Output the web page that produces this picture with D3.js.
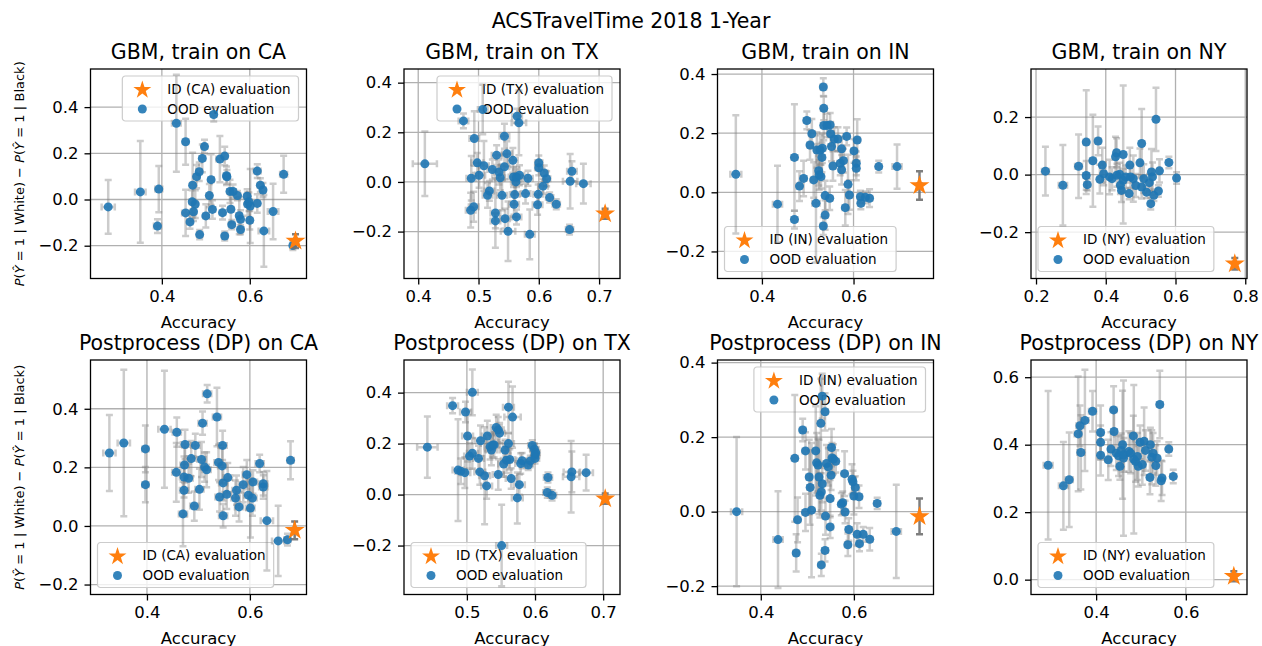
<!DOCTYPE html>
<html>
<head>
<meta charset="utf-8">
<script src="https://cdn.jsdelivr.net/npm/d3@7"></script>
<style>
  body { margin: 0; background: #fff; }
  text { font-family: "DejaVu Sans", sans-serif; fill: #000; }
</style>
</head>
<body>
<svg id="chart" width="1262" height="646"></svg>
<script>
// each point: [accuracy, gap, accuracy error, gap error]
const gbmCaOod = [
  [0.278,-0.032,0.015,0.116],[0.351,0.033,0.012,0.22],[0.393,0.045,0.008,0.10],[0.390,-0.115,0.008,0.03],
  [0.433,0.33,0.01,0.21],[0.454,0.25,0.006,0.10],[0.454,-0.058,0.008,0.10],[0.464,-0.097,0.006,0.03],
  [0.470,0.062,0.006,0.14],[0.469,-0.01,0.006,0.05],[0.476,-0.02,0.006,0.06],[0.472,-0.053,0.006,0.04],
  [0.479,0.099,0.006,0.05],[0.485,0.12,0.006,0.04],[0.486,-0.152,0.006,0.02],[0.492,0.178,0.006,0.06],
  [0.497,0.229,0.006,0.03],[0.500,-0.071,0.006,0.05],[0.508,0.017,0.006,0.05],[0.512,0.086,0.006,0.11],
  [0.515,-0.043,0.006,0.04],[0.518,0.368,0.006,0.03],[0.532,0.175,0.008,0.10],[0.538,-0.057,0.006,0.03],
  [0.543,0.188,0.006,0.04],[0.543,-0.158,0.006,0.02],[0.547,0.103,0.006,0.04],[0.548,0.098,0.006,0.03],
  [0.555,0.035,0.006,0.05],[0.557,-0.042,0.006,0.06],[0.559,-0.109,0.006,0.02],[0.562,0.035,0.006,0.03],
  [0.572,0.017,0.006,0.02],[0.576,-0.07,0.006,0.08],[0.579,-0.086,0.006,0.04],[0.579,-0.13,0.006,0.02],
  [0.594,0.014,0.006,0.03],[0.595,-0.02,0.006,0.05],[0.598,-0.01,0.006,0.04],[0.600,-0.09,0.006,0.04],
  [0.601,-0.028,0.006,0.16],[0.617,0.123,0.008,0.03],[0.617,-0.017,0.006,0.04],[0.624,0.062,0.006,0.03],
  [0.630,0.041,0.006,0.03],[0.632,-0.136,0.012,0.155],[0.653,-0.052,0.012,0.12],[0.677,0.109,0.008,0.08],
  [0.698,-0.199,0.004,0.02]
];
const gbmCaId = [0.704,-0.18,0.003,0.03];

const gbmTxOod = [
  [0.411,0.073,0.02,0.13],[0.475,0.246,0.008,0.03],[0.507,0.292,0.008,0.1],[0.493,0.175,0.008,0.11],
  [0.498,0.077,0.01,0.04],[0.501,0.027,0.01,0.05],[0.509,0.065,0.008,0.1],[0.488,0.015,0.008,0.09],
  [0.492,-0.10,0.008,0.06],[0.487,-0.114,0.008,0.07],[0.515,-0.054,0.008,0.05],[0.518,-0.036,0.008,0.04],
  [0.523,0.05,0.008,0.04],[0.530,0.108,0.008,0.04],[0.528,-0.125,0.008,0.14],[0.528,-0.157,0.008,0.03],
  [0.534,0.04,0.008,0.05],[0.536,0.017,0.008,0.05],[0.539,-0.054,0.008,0.06],[0.543,0.061,0.008,0.05],
  [0.543,0.184,0.008,0.05],[0.547,0.114,0.008,0.05],[0.544,-0.148,0.008,0.04],[0.549,-0.199,0.012,0.12],
  [0.557,0.087,0.008,0.05],[0.558,0.02,0.008,0.04],[0.559,-0.09,0.008,0.05],[0.560,-0.051,0.008,0.04],
  [0.562,0.0,0.008,0.05],[0.564,0.265,0.008,0.03],[0.563,0.02,0.008,0.04],[0.563,-0.141,0.008,0.03],
  [0.567,0.238,0.012,0.13],[0.568,0.027,0.008,0.04],[0.578,-0.047,0.008,0.04],[0.582,0.015,0.008,0.03],
  [0.585,-0.211,0.008,0.1],[0.599,-0.05,0.008,0.04],[0.598,-0.092,0.008,0.04],[0.600,0.077,0.006,0.03],
  [0.600,0.057,0.006,0.03],[0.607,-0.017,0.008,0.03],[0.609,0.036,0.006,0.03],[0.613,0.013,0.006,0.03],
  [0.618,-0.063,0.006,0.02],[0.629,-0.09,0.006,0.02],[0.651,-0.192,0.006,0.02],[0.652,0.003,0.012,0.11],
  [0.655,0.043,0.008,0.04],[0.674,-0.007,0.012,0.08]
];
const gbmTxId = [0.710,-0.128,0.003,0.02];

const gbmInOod = [
  [0.343,0.061,0.012,0.2],[0.434,-0.04,0.01,0.13],[0.471,-0.092,0.006,0.03],[0.471,0.118,0.006,0.18],
  [0.482,0.021,0.006,0.05],[0.491,0.047,0.006,0.06],[0.498,0.243,0.006,0.03],[0.505,0.16,0.006,0.05],
  [0.509,0.198,0.006,0.05],[0.513,0.042,0.006,0.06],[0.518,-0.037,0.008,0.2],[0.520,0.143,0.006,0.06],
  [0.524,0.073,0.006,0.05],[0.525,0.059,0.006,0.05],[0.527,0.143,0.006,0.05],[0.529,0.053,0.006,0.04],
  [0.531,0.118,0.006,0.05],[0.532,0.149,0.006,0.05],[0.534,-0.114,0.006,0.03],[0.535,0.284,0.006,0.04],
  [0.534,0.356,0.006,0.03],[0.535,0.226,0.006,0.05],[0.538,-0.077,0.006,0.05],[0.538,-0.011,0.006,0.05],
  [0.542,0.226,0.006,0.04],[0.548,-0.02,0.006,0.04],[0.549,0.228,0.006,0.04],[0.550,0.198,0.006,0.04],
  [0.552,0.155,0.006,0.05],[0.555,0.089,0.006,0.05],[0.558,0.18,0.006,0.04],[0.566,0.18,0.006,0.04],
  [0.574,0.147,0.006,0.04],[0.571,0.098,0.006,0.04],[0.574,0.076,0.006,0.05],[0.578,0.107,0.006,0.04],
  [0.582,-0.052,0.006,0.06],[0.585,0.189,0.006,0.03],[0.588,0.027,0.006,0.1],[0.591,-0.009,0.006,0.05],
  [0.601,0.14,0.006,0.04],[0.606,0.098,0.006,0.04],[0.606,0.081,0.006,0.04],[0.608,0.177,0.006,0.07],
  [0.615,-0.015,0.006,0.02],[0.616,-0.037,0.006,0.02],[0.626,-0.017,0.006,0.02],[0.635,-0.02,0.006,0.03],
  [0.655,0.087,0.006,0.02],[0.695,0.087,0.01,0.075]
];
const gbmInId = [0.744,0.023,0.004,0.048];

const gbmNyOod = [
  [0.227,0.012,0.01,0.085],[0.277,-0.037,0.012,0.14],[0.322,0.029,0.01,0.11],[0.344,0.113,0.008,0.18],
  [0.344,-0.003,0.008,0.05],[0.347,-0.035,0.008,0.02],[0.363,0.048,0.008,0.16],[0.378,0.117,0.008,0.05],
  [0.383,-0.016,0.006,0.05],[0.390,0.033,0.006,0.06],[0.394,0.003,0.006,0.04],[0.411,-0.008,0.006,0.06],
  [0.418,-0.014,0.006,0.04],[0.428,0.062,0.006,0.07],[0.431,0.076,0.006,0.05],[0.432,-0.002,0.006,0.04],
  [0.440,0.001,0.006,0.04],[0.442,-0.037,0.006,0.03],[0.445,-0.055,0.006,0.04],[0.450,0.07,0.006,0.24],
  [0.450,-0.02,0.006,0.04],[0.457,-0.008,0.006,0.04],[0.467,-0.066,0.006,0.02],[0.469,0.033,0.006,0.06],
  [0.471,-0.008,0.006,0.04],[0.479,-0.014,0.006,0.08],[0.486,-0.038,0.006,0.04],[0.498,0.041,0.006,0.05],
  [0.503,0.108,0.006,0.12],[0.503,-0.043,0.006,0.04],[0.509,-0.014,0.006,0.05],[0.517,-0.061,0.006,0.02],
  [0.525,-0.028,0.006,0.03],[0.529,-0.101,0.006,0.02],[0.531,0.009,0.006,0.08],[0.534,-0.008,0.006,0.05],
  [0.538,-0.072,0.006,0.02],[0.544,0.192,0.006,0.11],[0.551,-0.057,0.006,0.02],[0.554,0.013,0.006,0.04],
  [0.581,0.042,0.006,0.02],[0.603,-0.012,0.006,0.02]
];
const gbmNyId = [0.770,-0.31,0.003,0.02];

const dpCaOod = [
  [0.327,0.249,0.012,0.13],[0.355,0.283,0.012,0.25],[0.397,0.263,0.006,0.08],[0.397,0.141,0.006,0.06],
  [0.434,0.33,0.012,0.2],[0.458,0.32,0.008,0.05],[0.457,0.183,0.008,0.1],[0.470,0.041,0.008,0.11],
  [0.472,0.122,0.008,0.09],[0.473,0.208,0.008,0.06],[0.474,0.278,0.008,0.05],[0.472,0.167,0.008,0.07],
  [0.481,0.163,0.008,0.05],[0.486,0.23,0.008,0.06],[0.492,0.068,0.008,0.05],[0.494,0.275,0.008,0.04],
  [0.502,0.125,0.008,0.07],[0.506,0.227,0.008,0.06],[0.508,0.351,0.008,0.04],[0.512,0.201,0.008,0.05],
  [0.516,0.192,0.008,0.06],[0.517,0.451,0.008,0.03],[0.536,0.372,0.008,0.1],[0.539,0.217,0.008,0.06],
  [0.541,0.099,0.008,0.05],[0.546,0.205,0.008,0.06],[0.547,0.275,0.008,0.05],[0.548,0.147,0.008,0.06],
  [0.548,0.035,0.008,0.04],[0.555,0.108,0.008,0.05],[0.557,0.165,0.008,0.05],[0.572,0.095,0.008,0.06],
  [0.574,0.122,0.008,0.05],[0.579,0.065,0.008,0.05],[0.587,0.141,0.008,0.06],[0.594,0.175,0.008,0.05],
  [0.597,0.105,0.008,0.05],[0.601,0.061,0.008,0.1],[0.605,0.095,0.008,0.06],[0.606,0.15,0.008,0.04],
  [0.619,0.213,0.008,0.03],[0.626,0.144,0.008,0.04],[0.626,0.133,0.008,0.04],[0.633,0.018,0.012,0.17],
  [0.655,-0.051,0.012,0.12],[0.673,-0.047,0.006,0.02],[0.679,0.224,0.006,0.065]
];
const dpCaId = [0.687,-0.015,0.003,0.03];

const dpTxOod = [
  [0.442,0.186,0.015,0.12],[0.479,0.349,0.008,0.03],[0.487,0.096,0.008,0.2],[0.491,0.092,0.008,0.05],
  [0.497,0.086,0.008,0.06],[0.498,0.324,0.008,0.04],[0.501,0.23,0.008,0.1],[0.504,0.151,0.008,0.05],
  [0.508,0.162,0.008,0.06],[0.508,0.401,0.008,0.09],[0.517,0.142,0.008,0.05],[0.519,0.089,0.008,0.05],
  [0.520,0.211,0.008,0.06],[0.526,0.074,0.008,0.19],[0.529,0.034,0.008,0.05],[0.530,0.23,0.008,0.06],
  [0.534,0.188,0.008,0.05],[0.536,0.175,0.008,0.06],[0.538,0.195,0.008,0.05],[0.540,0.195,0.008,0.05],
  [0.543,0.263,0.008,0.05],[0.546,0.254,0.008,0.05],[0.548,0.241,0.008,0.04],[0.546,0.079,0.008,0.06],
  [0.551,-0.2,0.008,0.16],[0.554,0.12,0.008,0.05],[0.556,0.175,0.008,0.04],[0.558,0.135,0.008,0.05],
  [0.561,0.343,0.008,0.1],[0.561,0.2,0.008,0.04],[0.563,0.138,0.008,0.04],[0.565,0.063,0.008,0.04],
  [0.567,0.304,0.012,0.12],[0.574,-0.013,0.008,0.1],[0.577,0.039,0.008,0.04],[0.579,0.122,0.008,0.04],
  [0.581,0.133,0.008,0.03],[0.590,0.116,0.006,0.02],[0.593,0.132,0.006,0.02],[0.596,0.193,0.006,0.02],
  [0.599,0.178,0.006,0.02],[0.600,0.155,0.006,0.02],[0.600,0.142,0.006,0.02],[0.601,0.164,0.006,0.02],
  [0.619,0.067,0.006,0.02],[0.618,0.008,0.006,0.02],[0.625,-0.003,0.006,0.02],[0.654,0.089,0.012,0.08],
  [0.653,0.07,0.012,0.14],[0.675,0.086,0.01,0.07]
];
const dpTxId = [0.703,-0.016,0.003,0.02];

const dpInOod = [
  [0.348,0.0,0.012,0.2],[0.437,-0.075,0.01,0.13],[0.473,0.143,0.006,0.17],[0.479,-0.022,0.006,0.06],
  [0.476,-0.111,0.006,0.05],[0.490,0.219,0.006,0.03],[0.496,0.163,0.006,0.05],[0.496,-0.002,0.006,0.05],
  [0.504,0.093,0.006,0.1],[0.506,0.065,0.006,0.1],[0.509,0.004,0.006,0.18],[0.518,0.163,0.006,0.12],
  [0.520,0.131,0.006,0.08],[0.523,0.125,0.006,0.07],[0.525,0.093,0.006,0.1],[0.527,0.044,0.006,0.06],
  [0.529,0.237,0.006,0.12],[0.530,0.053,0.006,0.05],[0.532,0.075,0.006,0.05],[0.530,-0.143,0.006,0.03],
  [0.532,0.31,0.006,0.06],[0.538,0.268,0.006,0.05],[0.539,-0.012,0.006,0.05],[0.538,-0.104,0.006,0.03],
  [0.541,0.129,0.006,0.05],[0.545,0.12,0.006,0.05],[0.549,0.035,0.006,0.05],[0.549,-0.041,0.006,0.03],
  [0.551,0.098,0.006,0.04],[0.552,0.172,0.006,0.05],[0.553,0.144,0.006,0.04],[0.556,0.141,0.006,0.04],
  [0.561,0.135,0.006,0.03],[0.573,0.02,0.006,0.03],[0.576,0.024,0.006,0.03],[0.580,0.102,0.006,0.06],
  [0.581,-0.001,0.006,0.03],[0.587,-0.089,0.006,0.03],[0.589,-0.048,0.006,0.03],[0.596,0.087,0.006,0.04],
  [0.598,0.08,0.006,0.03],[0.600,0.042,0.006,0.05],[0.603,0.065,0.006,0.03],[0.607,-0.061,0.006,0.03],
  [0.611,0.04,0.006,0.03],[0.612,-0.086,0.006,0.02],[0.620,-0.061,0.006,0.02],[0.634,-0.074,0.006,0.03],
  [0.650,0.022,0.006,0.015],[0.691,-0.053,0.01,0.125]
];
const dpInId = [0.741,-0.013,0.003,0.048];

const dpNyOod = [
  [0.293,0.339,0.01,0.22],[0.327,0.278,0.01,0.13],[0.340,0.296,0.008,0.14],[0.360,0.432,0.008,0.17],
  [0.364,0.456,0.008,0.06],[0.366,0.377,0.008,0.11],[0.375,0.472,0.008,0.15],[0.392,0.499,0.008,0.06],
  [0.410,0.407,0.006,0.05],[0.410,0.436,0.006,0.08],[0.410,0.369,0.006,0.06],[0.427,0.355,0.006,0.06],
  [0.433,0.387,0.006,0.05],[0.439,0.503,0.006,0.07],[0.440,0.439,0.006,0.06],[0.445,0.375,0.006,0.05],
  [0.450,0.367,0.006,0.06],[0.453,0.336,0.006,0.04],[0.456,0.383,0.006,0.05],[0.459,0.4,0.006,0.16],
  [0.461,0.36,0.006,0.23],[0.462,0.37,0.006,0.05],[0.473,0.38,0.006,0.06],[0.477,0.375,0.006,0.06],
  [0.483,0.426,0.006,0.06],[0.484,0.357,0.006,0.22],[0.488,0.35,0.006,0.06],[0.492,0.365,0.006,0.07],
  [0.494,0.336,0.006,0.06],[0.498,0.407,0.006,0.05],[0.503,0.341,0.006,0.06],[0.507,0.41,0.006,0.1],
  [0.510,0.383,0.006,0.06],[0.520,0.303,0.006,0.05],[0.521,0.4,0.006,0.05],[0.524,0.363,0.006,0.08],
  [0.527,0.375,0.006,0.06],[0.533,0.338,0.006,0.06],[0.536,0.36,0.006,0.05],[0.542,0.519,0.006,0.1],
  [0.545,0.293,0.006,0.06],[0.547,0.301,0.006,0.05],[0.562,0.387,0.006,0.02],[0.572,0.306,0.006,0.02]
];
const dpNyId = [0.707,0.01,0.003,0.015];

const suptitle = "ACSTravelTime 2018 1-Year";

const panels = [
  { title: "GBM, train on CA", state: "CA", ood: gbmCaOod, id: gbmCaId, xDomain: [0.2377, 0.729], yDomain: [-0.342, 0.565], xTicks: [0.4, 0.6], yTicks: [-0.2, 0, 0.2, 0.4], legend: "ur" },
  { title: "GBM, train on TX", state: "TX", ood: gbmTxOod, id: gbmTxId, xDomain: [0.3764, 0.7347], yDomain: [-0.389, 0.455], xTicks: [0.4, 0.5, 0.6, 0.7], yTicks: [-0.2, 0, 0.2, 0.4], legend: "ur" },
  { title: "GBM, train on IN", state: "IN", ood: gbmInOod, id: gbmInId, xDomain: [0.303, 0.7746], yDomain: [-0.2915, 0.417], xTicks: [0.4, 0.6], yTicks: [-0.2, 0, 0.2, 0.4], legend: "ll" },
  { title: "GBM, train on NY", state: "NY", ood: gbmNyOod, id: gbmNyId, xDomain: [0.1856, 0.805], yDomain: [-0.361, 0.367], xTicks: [0.2, 0.4, 0.6, 0.8], yTicks: [-0.2, 0, 0.2], legend: "ll" },
  { title: "Postprocess (DP) on CA", state: "CA", ood: dpCaOod, id: dpCaId, xDomain: [0.2903, 0.710], yDomain: [-0.234, 0.5665], xTicks: [0.4, 0.6], yTicks: [-0.2, 0, 0.2, 0.4], legend: "ll" },
  { title: "Postprocess (DP) on TX", state: "TX", ood: dpTxOod, id: dpTxId, xDomain: [0.4077, 0.7247], yDomain: [-0.392, 0.528], xTicks: [0.5, 0.6, 0.7], yTicks: [-0.2, 0, 0.2, 0.4], legend: "ll" },
  { title: "Postprocess (DP) on IN", state: "IN", ood: dpInOod, id: dpInId, xDomain: [0.307, 0.771], yDomain: [-0.2224, 0.407], xTicks: [0.4, 0.6], yTicks: [-0.2, 0, 0.2, 0.4], legend: "ur" },
  { title: "Postprocess (DP) on NY", state: "NY", ood: dpNyOod, id: dpNyId, xDomain: [0.2548, 0.7364], yDomain: [-0.044, 0.651], xTicks: [0.4, 0.6], yTicks: [0, 0.2, 0.4, 0.6], legend: "ll" }
];

const svg = d3.select("#chart");
const plotW = 216;
const colLeft = [90.5, 404, 717.5, 1031];
const rowBox = [{ top: 69, bottom: 278.5 }, { top: 360, bottom: 594.5 }];
const blue = "#1f77b4", orange = "#ff7f0e";
const fmt = (v) => d3.format(".1f")(v).replace("-", "\u2212");
const starPath = (size) => d3.symbol(d3.symbolStar, size)();

svg.append("text")
  .attr("x", 631).attr("y", 28)
  .attr("text-anchor", "middle")
  .style("font-size", "20.5px")
  .text(suptitle);

// draws error bars with caps for one point
function errorBars(g, d, x, y, color, opacity) {
  const cx = x(d[0]), cy = y(d[1]);
  const x0 = x(d[0] - d[2]), x1 = x(d[0] + d[2]);
  const y0 = y(d[1] - d[3]), y1 = y(d[1] + d[3]);
  const cap = 3.5;
  const segs = [
    [x0, cy, x1, cy], [x0, cy - cap, x0, cy + cap], [x1, cy - cap, x1, cy + cap],
    [cx, y0, cx, y1], [cx - cap, y0, cx + cap, y0], [cx - cap, y1, cx + cap, y1]
  ];
  g.append("path")
    .attr("d", segs.map((s) => `M${s[0]},${s[1]}L${s[2]},${s[3]}`).join(""))
    .attr("stroke", color)
    .attr("stroke-opacity", opacity)
    .attr("stroke-width", 2.5)
    .attr("fill", "none");
}

panels.forEach((p, i) => {
  const left = colLeft[i % 4];
  const row = rowBox[Math.floor(i / 4)];
  const x = d3.scaleLinear().domain(p.xDomain).range([left, left + plotW]);
  const y = d3.scaleLinear().domain(p.yDomain).range([row.bottom, row.top]);
  const g = svg.append("g").attr("class", "panel");

  const clipId = "clip" + i;
  g.append("clipPath").attr("id", clipId)
    .append("rect")
    .attr("x", left).attr("y", row.top)
    .attr("width", plotW).attr("height", row.bottom - row.top);

  // grid
  g.append("g").selectAll("line").data(p.xTicks).join("line")
    .attr("x1", (d) => x(d)).attr("x2", (d) => x(d))
    .attr("y1", row.top).attr("y2", row.bottom)
    .attr("stroke", "#b0b0b0").attr("stroke-width", 1.3);
  g.append("g").selectAll("line").data(p.yTicks).join("line")
    .attr("y1", (d) => y(d)).attr("y2", (d) => y(d))
    .attr("x1", left).attr("x2", left + plotW)
    .attr("stroke", "#b0b0b0").attr("stroke-width", 1.3);

  // axes
  const xAxis = g.append("g")
    .attr("transform", `translate(0,${row.bottom})`)
    .call(d3.axisBottom(x).tickValues(p.xTicks).tickFormat(fmt).tickSize(6).tickPadding(6));
  const yAxis = g.append("g")
    .attr("transform", `translate(${left},0)`)
    .call(d3.axisLeft(y).tickValues(p.yTicks).tickFormat(fmt).tickSize(6).tickPadding(6));
  [xAxis, yAxis].forEach((a) => {
    a.select(".domain").remove();
    a.selectAll(".tick line").attr("stroke", "#000").attr("stroke-width", 1.3);
    a.selectAll(".tick text")
      .style("font-size", "16.5px")
      .style("font-family", "DejaVu Sans, sans-serif")
      .attr("fill", "#000");
  });

  // legend (drawn below the marks)
  const leg = g.append("g");
  const legBox = leg.append("rect")
    .attr("rx", 3).attr("ry", 3)
    .attr("fill", "#fff").attr("fill-opacity", 0.8)
    .attr("stroke", "#cccccc").attr("stroke-width", 1.2);
  const labels = [`ID (${p.state}) evaluation`, "OOD evaluation"];
  const legTexts = leg.selectAll("text.leg").data(labels).join("text")
    .attr("class", "leg")
    .attr("x", 45).attr("y", (d, k) => 13 + k * 20)
    .attr("dy", "0.35em")
    .style("font-size", "13.5px")
    .text((d) => d);
  leg.append("path").attr("d", starPath(100))
    .attr("transform", "translate(20,14)").attr("fill", orange);
  leg.append("circle").attr("cx", 20).attr("cy", 33).attr("r", 4.5)
    .attr("fill", blue).attr("fill-opacity", 0.9);
  const textW = d3.max(legTexts.nodes(), (n) => n.getComputedTextLength());
  const boxW = 45 + textW + 8, boxH = 45;
  legBox.attr("width", boxW).attr("height", boxH);
  const lx = p.legend === "ur" ? left + plotW - 8 - boxW : left + 7;
  const ly = p.legend === "ur" ? row.top + 7 : row.bottom - 7 - boxH;
  leg.attr("transform", `translate(${lx},${ly})`);

  // data
  const marks = g.append("g").attr("clip-path", `url(#${clipId})`);
  const bars = marks.append("g");
  p.ood.forEach((d) => errorBars(bars, d, x, y, "gray", 0.4));
  marks.append("g").selectAll("circle").data(p.ood).join("circle")
    .attr("cx", (d) => x(d[0])).attr("cy", (d) => y(d[1]))
    .attr("r", 4.5)
    .attr("fill", blue).attr("fill-opacity", 0.9);
  errorBars(marks, p.id, x, y, "#707070", 0.9);
  marks.append("path").attr("d", starPath(124))
    .attr("transform", `translate(${x(p.id[0])},${y(p.id[1])})`)
    .attr("fill", orange);

  // frame
  g.append("rect")
    .attr("x", left).attr("y", row.top)
    .attr("width", plotW).attr("height", row.bottom - row.top)
    .attr("fill", "none").attr("stroke", "#000").attr("stroke-width", 1.3);

  // titles and labels
  g.append("text")
    .attr("x", left + plotW / 2).attr("y", row.top - 10)
    .attr("text-anchor", "middle")
    .style("font-size", "20.5px")
    .text(p.title);
  g.append("text")
    .attr("x", left + plotW / 2).attr("y", row.bottom + 49)
    .attr("text-anchor", "middle")
    .style("font-size", "16.5px")
    .text("Accuracy");

  if (i % 4 === 0) {
    const cy = (row.top + row.bottom) / 2;
    const yl = g.append("text")
      .attr("transform", `translate(24,${cy}) rotate(-90)`)
      .attr("text-anchor", "middle")
      .style("font-size", "13px");
    const parts = [
      ["P", true], ["(", false], ["Ŷ", true], [" = 1 ", false], ["|", false], [" White) \u2212 ", false],
      ["P", true], ["(", false], ["Ŷ", true], [" = 1 ", false], ["|", false], [" Black)", false]
    ];
    parts.forEach(([t, it]) => {
      yl.append("tspan")
        .style("font-style", it ? "italic" : "normal")
        .style("font-weight", t === "|" ? "bold" : "normal")
        .text(t);
    });
  }
});
</script>
</body>
</html>
